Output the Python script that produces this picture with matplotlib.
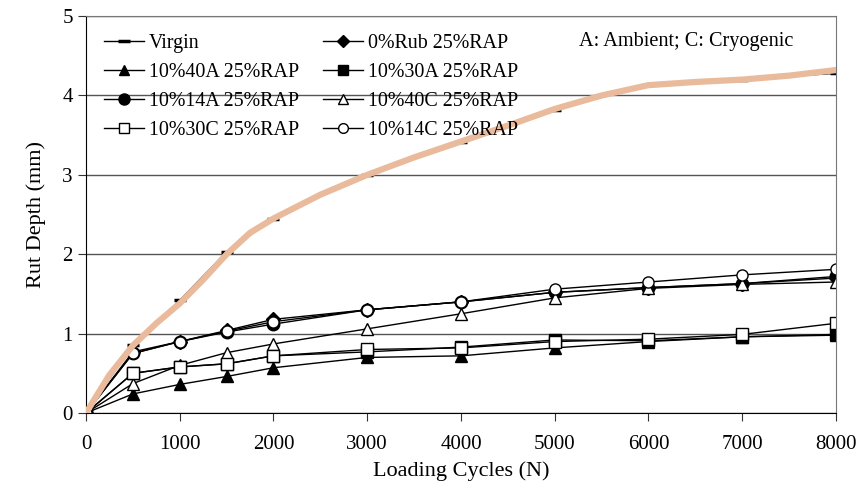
import matplotlib.pyplot as plt
from matplotlib.lines import Line2D

plt.rcParams['font.family'] = ['Liberation Serif', 'DejaVu Serif']

cycles = [0, 500, 1000, 1500, 2000, 3000, 4000, 5000, 6000, 7000, 8000]

virgin = [0, 0.86, 1.42, 2.03, 2.45, 3.0, 3.42, 3.82, 4.13, 4.2, 4.28]
rub0 = [0, 0.77, 0.9, 1.04, 1.18, 1.3, 1.4, 1.52, 1.58, 1.63, 1.7]
a40 = [0, 0.24, 0.36, 0.46, 0.57, 0.7, 0.72, 0.82, 0.9, 0.96, 0.98]
a30 = [0, 0.5, 0.58, 0.62, 0.72, 0.77, 0.83, 0.92, 0.91, 0.96, 0.99]
a14 = [0, 0.75, 0.9, 1.02, 1.12, 1.3, 1.4, 1.52, 1.58, 1.63, 1.72]
c40 = [0, 0.37, 0.6, 0.76, 0.87, 1.06, 1.25, 1.45, 1.57, 1.62, 1.65]
c30 = [0, 0.5, 0.58, 0.62, 0.72, 0.8, 0.82, 0.9, 0.93, 0.99, 1.13]
c14 = [0, 0.75, 0.9, 1.03, 1.15, 1.3, 1.4, 1.56, 1.65, 1.74, 1.81]

# hand-drawn tan overlay on the virgin curve
tan_x = [0, 250, 500, 750, 1000, 1250, 1500, 1750, 2000, 2500, 3000, 3500, 4000,
         4500, 5000, 5500, 6000, 6500, 7000, 7500, 8000]
tan_y = [0, 0.48, 0.85, 1.13, 1.38, 1.68, 2.0, 2.27, 2.45, 2.75, 3.0, 3.22, 3.42,
         3.62, 3.83, 4.0, 4.13, 4.17, 4.2, 4.25, 4.32]

fig = plt.figure(figsize=(8.56, 4.88), dpi=100)
ax = fig.add_axes([0.1005, 0.1537, 0.876, 0.8133])

lw = 1.0
ax.plot(cycles, virgin, color="k", lw=lw, marker="_", ms=9, mew=2.5)
ax.plot(cycles, rub0, color="k", lw=lw, marker="D", ms=7)
ax.plot(cycles, a40, color="k", lw=lw, marker="^", ms=8)
ax.plot(cycles, a30, color="k", lw=lw, marker="s", ms=8)
ax.plot(cycles, a14, color="k", lw=lw, marker="o", ms=9)
ax.plot(cycles, c40, color="k", lw=lw, marker="^", ms=8, mfc="white")
ax.plot(cycles, c30, color="k", lw=lw, marker="s", ms=8, mfc="white")
ax.plot(cycles, c14, color="k", lw=lw, marker="o", ms=8, mfc="white")
ax.plot(tan_x, tan_y, color="#e9bb9c", lw=4.5, solid_capstyle="round",
        solid_joinstyle="round", zorder=5)

ax.set_xlim(0, 8000)
ax.set_ylim(0, 5)
ax.set_xticks(range(0, 8001, 1000))
ax.set_yticks(range(0, 6))
ax.yaxis.grid(True, color="#555555", lw=1.0)
ax.set_axisbelow(True)
for s in ["top", "right"]:
    ax.spines[s].set_color("#777777")
ax.tick_params(labelsize=15, direction="out", length=6, color="#333333")
ax.tick_params(axis="x", pad=10)
ax.set_xlabel("Loading Cycles (N)", fontsize=16, labelpad=5)
ax.set_ylabel("Rut Depth (mm)", fontsize=16, labelpad=12)

handles = [
    Line2D([], [], color="k", lw=lw, marker="_", ms=8, mew=2.5),
    Line2D([], [], color="k", lw=lw, marker="^", ms=7),
    Line2D([], [], color="k", lw=lw, marker="o", ms=8),
    Line2D([], [], color="k", lw=lw, marker="s", ms=7, mfc="white"),
    Line2D([], [], color="k", lw=lw, marker="D", ms=6),
    Line2D([], [], color="k", lw=lw, marker="s", ms=7),
    Line2D([], [], color="k", lw=lw, marker="^", ms=7, mfc="white"),
    Line2D([], [], color="k", lw=lw, marker="o", ms=7, mfc="white"),
]
labels = ["Virgin", "10%40A 25%RAP", "10%14A 25%RAP", "10%30C 25%RAP",
          "0%Rub 25%RAP", "10%30A 25%RAP", "10%40C 25%RAP", "10%14C 25%RAP"]
leg = ax.legend(handles, labels, ncol=2, loc="upper left", frameon=False,
                fontsize=14.4, handlelength=2.0, handletextpad=0.25,
                columnspacing=1.2, labelspacing=0.5,
                bbox_to_anchor=(0.0, 1.0))
leg.set_zorder(6)

ax.text(0.657, 0.935, "A: Ambient; C: Cryogenic", transform=ax.transAxes,
        fontsize=14.6, va="center", ha="left")

fig.savefig("out.png", dpi=100)
